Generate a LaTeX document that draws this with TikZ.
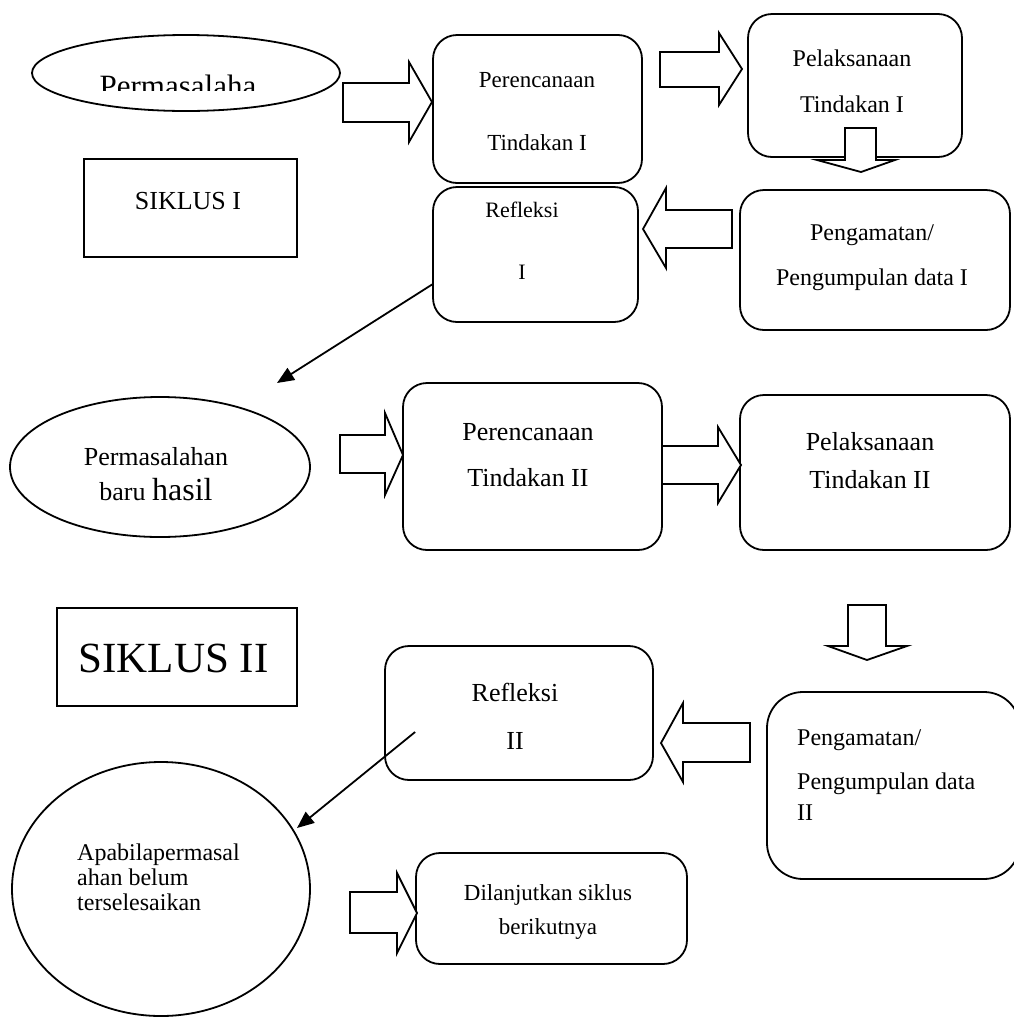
\documentclass[tikz,border=0pt]{standalone}
\usepackage{fontspec}
\setmainfont{Liberation Serif}
\usetikzlibrary{arrows.meta,shapes.geometric,calc}
\newcommand{\fsz}[2]{\fontsize{#1}{#2}\selectfont}

\begin{document}
\begin{tikzpicture}[x=1pt,y=-1pt,>={Triangle[length=17pt,width=14pt]},
  rbox/.style={draw,line width=1.8pt,rounded corners=24pt,inner sep=0pt},
  sbox/.style={draw,line width=1.8pt,inner sep=0pt},
  oval/.style={draw,ellipse,line width=1.8pt,inner sep=0pt},
  txt/.style={inner sep=0pt,align=center},
  blk/.style={draw,fill=white,line width=1.8pt,line join=miter}]
\useasboundingbox (0,0) rectangle (1013,1018);

% cycle I: boxes
\node[oval,minimum width=308pt,minimum height=76pt] (masalah1) at (186,73) {};
\begin{scope}
  \clip (0,0) rectangle (1013,90);
  \node[txt,anchor=base,font=\fsz{31}{36}] (masalah1-t) at (178,96.5) {Permasalaha};
\end{scope}
\node[rbox,minimum width=209pt,minimum height=148pt] (perenc1) at (537.5,109) {};
\node[txt,font=\fsz{23}{63}] (perenc1-t) at (537,111.5) {Perencanaan\\Tindakan I};
\node[rbox,minimum width=214pt,minimum height=143pt] (pelak1) at (855,85.5) {};
\node[txt,font=\fsz{24}{46}] (pelak1-t) at (852,81) {Pelaksanaan\\Tindakan I};
\node[sbox,minimum width=213pt,minimum height=98pt] (siklus1) at (190.5,208) {};
\node[txt,font=\fsz{26}{30}] (siklus1-t) at (188,201) {SIKLUS I};
\node[rbox,minimum width=205pt,minimum height=135pt] (ref1) at (535.5,254.5) {};
\node[txt,font=\fsz{22}{62}] (ref1-t) at (522,241) {Refleksi\\I};
\node[rbox,minimum width=270pt,minimum height=140pt] (amat1) at (875,260) {};
\node[txt,font=\fsz{24}{45}] (amat1-t) at (872,257.5) {Pengamatan/\\Pengumpulan data I};

% cycle I: block arrows
\draw[blk] (343,83) -- (409,83) -- (409,62) -- (432,102) -- (409,142) -- (409,122) -- (343,122) -- cycle;
\draw[blk] (660,52) -- (719,52) -- (719,33) -- (742,69) -- (719,105) -- (719,87) -- (660,87) -- cycle;
\draw[blk] (845,128) -- (876,128) -- (876,160) -- (895,160) -- (861,172) -- (817,160) -- (845,160) -- cycle;
\draw[blk] (732,210) -- (666,210) -- (666,188) -- (643,229) -- (666,268) -- (666,248) -- (732,248) -- cycle;

% to the new problem
\coordinate (a1end) at (277,383);
\draw[->,line width=1.8pt] ($(ref1.west)+(0,30)$) -- (a1end);

% cycle II: boxes
\node[oval,minimum width=300pt,minimum height=140pt] (masalah2) at (160,467) {};
\node[txt,font=\fsz{26}{35}] (masalah2-t) at (156,474.5) {Permasalahan\\baru {\fsz{32}{35}hasil}};
\node[rbox,minimum width=259pt,minimum height=167pt] (perenc2) at (532.5,466.5) {};
\node[txt,font=\fsz{26}{46}] (perenc2-t) at (528,455) {Perencanaan\\Tindakan II};
\node[rbox,minimum width=270pt,minimum height=155pt] (pelak2) at (875,472.5) {};
\node[txt,font=\fsz{26}{38}] (pelak2-t) at (870,461) {Pelaksanaan\\Tindakan II};
\node[sbox,minimum width=240pt,minimum height=98pt] (siklus2) at (177,657) {};
\node[txt,font=\fsz{43}{50}] (siklus2-t) at (173.5,658) {SIKLUS II};
\node[rbox,minimum width=268pt,minimum height=134pt] (ref2) at (519,713) {};
\node[txt,font=\fsz{26}{48}] (ref2-t) at (515,716) {Refleksi\\II};
\node[rbox,rounded corners=36pt,minimum width=253pt,minimum height=187pt] (amat2) at (893.5,785.5) {};
\node[txt,align=left,anchor=west,font=\fsz{24}{31}] (amat2-t) at (797,775.5) {Pengamatan/\\[13pt]Pengumpulan data\\II};

% cycle II: block arrows
\draw[blk] (340,435) -- (385,435) -- (385,413) -- (403,455) -- (385,495) -- (385,473) -- (340,473) -- cycle;
\draw[blk] (662,446) -- (718,446) -- (718,427) -- (741,465) -- (718,503) -- (718,484) -- (662,484) -- cycle;
\draw[blk] (848,605) -- (886,605) -- (886,646) -- (907,646) -- (867,660) -- (828,646) -- (848,646) -- cycle;
\draw[blk] (750,723) -- (683,723) -- (683,703) -- (661,743) -- (683,782) -- (683,762) -- (750,762) -- cycle;

% end of cycle II
\node[oval,minimum width=298pt,minimum height=254pt] (apabila) at (161,889) {};
\node[txt,align=left,anchor=west,font=\fsz{24}{25}] (apabila-t) at (77,877) {Apabilapermasal\\ahan belum\\terselesaikan};
\node[rbox,minimum width=271pt,minimum height=111pt] (lanjut) at (551.5,908.5) {};
\node[txt,font=\fsz{23}{34}] (lanjut-t) at (548,912) {Dilanjutkan siklus\\berikutnya};
\draw[blk] (350,892) -- (397,892) -- (397,873) -- (417,913) -- (397,953) -- (397,933) -- (350,933) -- cycle;

\coordinate (a2end) at (297,828);
\draw[->,line width=1.8pt] ($(ref2.west)+(31,19)$) -- (a2end);
\end{tikzpicture}
\end{document}
